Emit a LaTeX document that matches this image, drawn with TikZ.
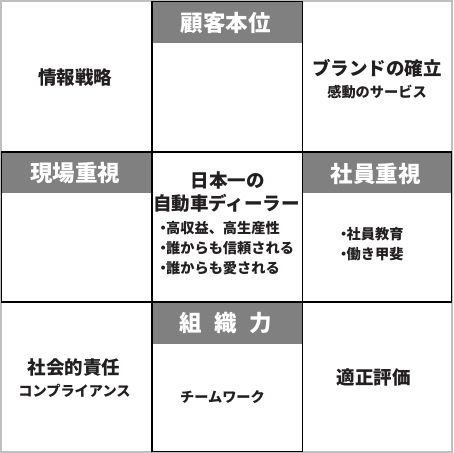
\documentclass[tikz,border=0pt]{standalone}
\usepackage{fontspec}
\setmainfont{Noto Sans CJK JP}
\newcommand\bul{\hbox to 0.42em{\hss・\hss}}
\begin{document}
\begin{tikzpicture}[x=1pt,y=-1pt,
  cellbox/.style={draw=black,line width=1.2pt},
  headtxt/.style={text=white,font=\fontsize{22.5}{26}\selectfont\bfseries,inner sep=0pt},
  bigtxt/.style={text=txtdark,font=\fontsize{18.5}{22}\selectfont\bfseries,inner sep=0pt},
  smalltxt/.style={text=txtdark,font=\fontsize{14.2}{17}\selectfont\bfseries,inner sep=0pt},
  listtxt/.style={text=txtdark,font=\fontsize{14.2}{20}\selectfont\bfseries,inner sep=0pt,align=left}]
\definecolor{headgray}{HTML}{808080}
\definecolor{txtdark}{HTML}{231F20}
\definecolor{outergray}{HTML}{BFBFBF}
\useasboundingbox (0,0) rectangle (453,453);
\fill[white] (0,0) rectangle (453,453);
% outer frame
\draw[outergray,line width=1.2pt] (1,1) rectangle (452,452);
% header bars
\fill[headgray] (152,1.5) rectangle (302.5,43);
\fill[headgray] (1.5,152) rectangle (152,193);
\fill[headgray] (302.5,152) rectangle (451.5,193);
\fill[headgray] (152,302) rectangle (302.5,344);
% cross cells
\draw[cellbox] (152,1.5) rectangle (302.5,152);
\draw[cellbox] (1.5,152) rectangle (152,302);
\draw[cellbox] (152,152) rectangle (302.5,302);
\draw[cellbox] (302.5,152) rectangle (451.5,302);
\draw[cellbox] (152,302) rectangle (302.5,451.5);
% headers
\node[headtxt] (h1) at (225.5,23) {顧客本位};
\node[headtxt] (h2) at (75.5,173.5) {現場重視};
\node[headtxt] (h3) at (375.5,173.5) {社員重視};
\node[headtxt] (h4) at (225.5,323.5) {組\hspace{0.55em}織\hspace{0.55em}力};
% corner texts
\node[bigtxt] (t1) at (75,77) {情報戦略};
\node[bigtxt] (t2) at (377,68) {ブランドの確立};
\node[smalltxt] (t3) at (377,92) {感動のサービス};
\node[bigtxt] (t4) at (74,368) {社会的責任};
\node[smalltxt] (t5) at (74.5,391) {コンプライアンス};
\node[bigtxt] (t6) at (373.5,377) {適正評価};
% center
\node[bigtxt] (c1) at (227.5,180) {日本一の};
\node[bigtxt] (c2) at (226.5,203) {自動車ディーラー};
\node[listtxt,anchor=north west] (c3) at (160,221) {\bul 高収益、高生産性\\\bul 誰からも信頼される\\\bul 誰からも愛される};
% right middle
\node[listtxt,anchor=north west] (r1) at (340.5,227) {\bul 社員教育\\\bul 働き甲斐};
% bottom middle
\node[smalltxt] (b1) at (222.5,397) {チームワーク};
\end{tikzpicture}
\end{document}
